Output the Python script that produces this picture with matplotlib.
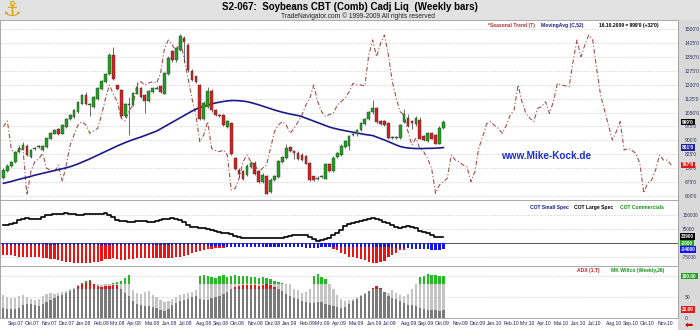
import numpy as np
import pandas as pd
import matplotlib
matplotlib.use("Agg")
import matplotlib.pyplot as plt
import matplotlib.dates as mdates
from matplotlib.patches import Rectangle

plt.rcParams['font.family'] = ['Liberation Sans', 'DejaVu Sans']

# ---- data (weekly bars, first bar 24.08.2007, last 16.10.2009) ----
bar_start = '2007-08-24'
opens = [697, 735, 762, 783, 837, 857, 870, 812, 857, 866, 848, 866, 911, 938, 960, 938,
         974, 1016, 1028, 1055, 1100, 1145, 1091, 1082, 1127, 1178, 1217, 1262, 1358, 1196,
         1172, 1034, 1091, 1091, 1154, 1181, 1145, 1113, 1160, 1181, 1190, 1154, 1262, 1379,
         1334, 1388, 1451, 1415, 1275, 1244, 1196, 1019, 1082, 1163, 1064, 1037, 1037, 974,
         992, 803, 740, 731, 713, 758, 776, 731, 677, 704, 623, 686, 704, 785, 807, 861,
         843, 830, 821, 812, 776, 704, 695, 704, 695, 771, 735, 812, 821, 866, 870, 929,
         933, 956, 992, 1016, 1052, 1073, 1005, 1001, 992, 915, 915, 915, 1001, 1019, 1001,
         992, 1010, 920, 896, 938, 929, 884, 967]
closes = [740, 762, 783, 837, 859, 875, 821, 848, 860, 864, 866, 911, 938, 956, 938, 983,
          1016, 1037, 1064, 1106, 1145, 1095, 1093, 1131, 1181, 1217, 1257, 1361, 1232, 1178,
          1034, 1095, 1093, 1154, 1181, 1136, 1113, 1163, 1181, 1183, 1163, 1262, 1343, 1334,
          1397, 1460, 1433, 1280, 1226, 1217, 1019, 1100, 1163, 1064, 1037, 1035, 983, 1001,
          830, 749, 722, 695, 758, 776, 722, 677, 713, 614, 686, 704, 785, 807, 857, 843,
          834, 803, 794, 776, 686, 686, 697, 706, 771, 735, 806, 830, 870, 893, 920, 931,
          956, 992, 1016, 1052, 1073, 1001, 992, 983, 915, 917, 917, 983, 1041, 978, 994,
          1019, 911, 902, 938, 911, 884, 967, 999]
highs = [750, 770, 790, 845, 875, 893, 880, 855, 866, 875, 875, 915, 945, 962, 968, 990,
         1022, 1045, 1070, 1112, 1152, 1160, 1100, 1138, 1188, 1225, 1265, 1370, 1406, 1200,
         1180, 1100, 1136, 1160, 1217, 1190, 1150, 1170, 1188, 1195, 1200, 1270, 1355, 1390,
         1405, 1475, 1465, 1425, 1285, 1250, 1205, 1110, 1190, 1180, 1070, 1045, 1045, 1010,
         1000, 810, 750, 740, 770, 790, 790, 740, 725, 715, 695, 715, 792, 815, 880, 870,
         850, 840, 830, 820, 785, 710, 705, 715, 778, 780, 815, 838, 878, 900, 928, 940,
         962, 1000, 1022, 1060, 1118, 1080, 1012, 1008, 1000, 925, 925, 990, 1070, 1045,
         1010, 1030, 1025, 928, 945, 945, 935, 975, 1008]
lows = [690, 730, 755, 778, 830, 850, 815, 805, 850, 858, 840, 860, 905, 932, 930, 932,
        968, 1010, 1020, 1050, 1095, 1090, 1030, 1075, 1120, 1170, 1210, 1255, 1225, 1172,
        1028, 1028, 929, 1085, 1148, 1130, 1046, 1108, 1155, 1175, 1158, 1150, 1255, 1325,
        1325, 1380, 1325, 1270, 1220, 1210, 1010, 1010, 1075, 1055, 1030, 1025, 975, 965,
        822, 740, 700, 685, 705, 750, 715, 670, 670, 608, 615, 680, 698, 778, 800, 835,
        800, 795, 788, 770, 680, 680, 688, 695, 690, 728, 730, 805, 815, 860, 850, 922,
        925, 950, 985, 1010, 1045, 995, 985, 975, 908, 905, 908, 908, 995, 970, 960, 975,
        905, 895, 890, 905, 878, 878, 960]
moving_avg = [668, 673, 678, 684, 690, 695, 700, 706, 712, 717, 722, 727, 732, 737, 742, 747,
              752, 758, 765, 773, 782, 791, 800, 810, 820, 830, 840, 850, 860, 870, 879, 888,
              896, 904, 911, 918, 926, 934, 942, 950, 962, 974, 986, 998, 1010, 1022, 1034,
              1046, 1058, 1068, 1077, 1084, 1091, 1097, 1102, 1106, 1110, 1113, 1115, 1115,
              1114, 1112, 1109, 1104, 1098, 1092, 1085, 1078, 1071, 1064, 1058, 1052, 1047,
              1042, 1038, 1034, 1028, 1020, 1012, 1004, 996, 988, 980, 972, 966, 961, 956, 952,
              948, 944, 940, 936, 932, 929, 926, 918, 910, 902, 893, 884, 875, 867, 862, 859,
              857, 856, 856, 856, 857, 857, 858, 859, 861]
seasonal = [974, 1005, 857, 821, 857, 848, 605, 731, 785, 800, 830, 749, 740, 731, 767, 677,
            767, 875, 930, 983, 1001, 983, 938, 950, 965, 1037, 1127, 1199, 1150, 1109, 1019,
            1005, 1060, 1091, 1199, 1217, 1199, 1210, 1217, 1208, 1262, 1397, 1442, 1415, 1379,
            1442, 1343, 1235, 1127, 1037, 893, 929, 1001, 857, 845, 839, 848, 821, 632, 641,
            695, 785, 821, 785, 767, 731, 750, 767, 857, 947, 983, 1001, 983, 938, 965, 1000,
            1037, 1091, 1127, 1199, 1109, 1055, 1028, 1040, 1046, 1091, 1110, 1127, 1163, 1208,
            1200, 1199, 1194, 1361, 1442, 1352, 1424, 1469, 1361, 1217, 1127, 1055, 1037, 947,
            875, 911, 857, 839, 800, 749, 614, 659, 677, 695, 821, 794, 785, 767, 758, 677, 731,
            857, 920, 990, 1001, 980, 965, 938, 980, 1037, 1064, 1199, 1109, 1046, 1020, 1001,
            1073, 1082, 1109, 1046, 1109, 1208, 1199, 1195, 1190, 1325, 1442, 1352, 1415, 1469,
            1442, 1289, 1145, 1064, 983, 902, 947, 1001, 848, 857, 845, 830, 776, 616, 670, 686,
            740, 821, 794, 794, 767]

# COT (net positions)
cot_large = [96400, 98000, 100000, 109000, 123000, 128000, 132000, 131000, 130000, 128500,
             140000, 150000, 152000, 153500, 155000, 157000, 159000, 156000, 153000, 150000,
             151000, 153000, 154000, 155000, 156000, 157000, 159000, 152000, 141000, 125000,
             118000, 116000, 115000, 114000, 116000, 118000, 117000, 115000, 114000, 118000,
             123000, 127000, 130000, 132000, 129000, 123000, 112000, 98000, 87500, 84000,
             81000, 78500, 74000, 68000, 63000, 60700, 56000, 51000, 46400, 40000, 33000,
             28600, 27000, 26000, 25000, 25000, 25000, 25000, 25000, 25000, 25000, 28000,
             33000, 39300, 41000, 42000, 42900, 42900, 32000, 21400, 10700, 15000, 22000,
             28600, 42000, 51800, 70000, 92800, 100000, 106000, 112000, 118000, 124000, 128000,
             132000, 128000, 123000, 114000, 105000, 95000, 85000, 78500, 87500, 92800, 85000,
             78500, 66000, 60700, 52000, 42900, 34000, 33900, 33900]
cot_comm = [-64000, -64000, -66000, -70000, -73000, -73000, -73000, -73000, -75000, -77000,
            -80000, -82000, -85000, -88000, -91000, -95000, -100000, -104000, -109000, -109000,
            -109000, -109000, -106000, -103000, -100000, -95000, -88000, -84000, -82000, -86000,
            -90000, -91000, -88000, -85000, -82000, -82000, -82000, -82000, -82000, -82000,
            -82000, -82000, -80000, -78000, -75000, -73000, -68000, -62000, -55000, -48000,
            -42000, -37000, -34000, -31000, -29000, -28000, -25000, -22000, -20000, -18000,
            -16000, -15000, -14000, -13000, -12000, -12000, -13000, -14000, -15000, -14000,
            -13000, -12000, -12000, -13000, -14000, -15000, -16000, -17000, -18000, -16000,
            -15000, -14000, -16000, -20000, -30000, -37000, -55000, -60000, -73000, -76000,
            -80000, -85000, -92000, -100000, -105000, -109000, -104000, -95000, -73000, -62000,
            -55000, -40000, -36000, -28000, -22000, -18000, -18000, -18000, -18000, -18000,
            -18000, -18000, -18000]
cot_small = [-9000, -9000, -9500, -9500, -10000, -10000, -9500, -9000, -9000, -9500, -10000,
             -10000, -10500, -10500, -11000, -11000, -11000, -10500, -10000, -10000, -10000,
             -10500, -10500, -11000, -11000, -10500, -10000, -10000, -9500, -9500, -10000,
             -10000, -10500, -10500, -10000, -10000, -10000, -10500, -10500, -11000, -11000,
             -11000, -10500, -10500, -10000, -10000, -10500, -11000, -11500, -12000, -12500,
             -13000, -14000, -15000, -16000, -17000, -18000, -19000, -20000, -21000, -21000,
             -22000, -22000, -21000, -20000, -20000, -21000, -22000, -23000, -22000, -21000,
             -20000, -20000, -21000, -22000, -23000, -24000, -25000, -26000, -26000, -25000,
             -24000, -24000, -23000, -22000, -21000, -20000, -20000, -20000, -20000, -20000,
             -20000, -20000, -20000, -20000, -20000, -20000, -21000, -22000, -23000, -25000,
             -27000, -28000, -29000, -30000, -31000, -32000, -33000, -34000, -35000, -35000,
             -35000, -34000]

# ADX / MK Willco
adx = [23, 21, 21, 22, 25, 30, 33, 33, 31, 28, 33, 38, 43, 47, 52, 56, 60, 64, 70, 76, 80, 84,
       88, 80, 76, 75, 76, 77, 79, 78, 70, 60, 52, 40, 33, 30, 29, 28, 27, 25, 20, 16, 22, 30,
       36, 40, 43, 46, 50, 52, 45, 43, 44, 47, 50, 53, 58, 63, 68, 73, 76, 78, 79, 79, 78, 77,
       79, 80, 78, 74, 70, 64, 58, 52, 48, 45, 40, 38, 36, 35, 37, 38, 33, 30, 28, 27, 25, 27,
       33, 40, 46, 52, 58, 65, 72, 76, 72, 62, 52, 48, 45, 40, 36, 32, 30, 28, 25, 22, 20, 19,
       18, 17, 20]
willco = [55, 50, 47, 48, 52, 55, 50, 45, 43, 45, 52, 58, 60, 58, 60, 62, 65, 68, 72, 78, 84,
          88, 90, 82, 80, 78, 80, 82, 84, 85, 88, 96, 102, 66, 60, 58, 62, 64, 55, 50, 42, 38,
          40, 45, 50, 55, 58, 60, 62, 66, 100, 102, 100, 98, 96, 100, 102, 98, 100, 102, 100,
          101, 100, 98, 97, 96, 98, 95, 92, 88, 86, 84, 82, 80, 70, 66, 60, 62, 70, 100, 104,
          98, 94, 80, 70, 55, 45, 40, 42, 45, 50, 55, 60, 62, 65, 68, 64, 62, 60, 66, 60, 55,
          52, 58, 70, 80, 98, 100, 104, 103, 102, 101, 100]

month_names = ['Jan', 'Feb', 'Mrz', 'Apr', 'Mai', 'Jun', 'Jul', 'Aug', 'Sep', 'Okt', 'Nov', 'Dez']
price_ticks = [600, 675, 750, 825, 900, 975, 1050, 1125, 1200, 1275, 1350, 1425, 1500]
cot_ticks = [-75000, 75000, 150000]
adx_ticks = [0, 50]

dates = pd.date_range(bar_start, periods=len(closes), freq='7D')
sdates = pd.date_range(bar_start, periods=len(seasonal), freq='7D')
month_ticks = pd.date_range('2007-09-01', '2010-11-01', freq='MS')
o = np.array(opens); c = np.array(closes); h = np.array(highs); l = np.array(lows)

GREEN = '#1fa01f'
RED = '#d81e1e'
GRID = '#c8c8c8'
STRIP = '#d9d9d9'
xmin, xmax = pd.Timestamp('2007-08-18'), pd.Timestamp('2010-12-08')

fig = plt.figure(figsize=(7, 3.3), dpi=100)
fig.patch.set_facecolor('white')
# header band and right strip (behind the axes)
fig.patches.append(Rectangle((0, 1 - 20 / 330), 1, 20 / 330, transform=fig.transFigure,
                             facecolor='#e2e2e2', edgecolor='none', zorder=-5))
fig.patches.append(Rectangle((678 / 700, 0), 22 / 700, 1 - 20 / 330, transform=fig.transFigure,
                             facecolor=STRIP, edgecolor='none', zorder=-5))
fig.text(0.5, 1 - 7 / 330, 'S2-067:  Soybeans CBT (Comb) Cadj Liq  (Weekly bars)',
         ha='center', va='center', fontsize=7, fontweight='bold')
fig.text(435 / 700, 1 - 16 / 330, 'TradeNavigator.com \u00a9 1999-2009 All rights reserved',
         ha='right', va='center', fontsize=4.8, color='#222222')
fig.text(12 / 700, 1 - 10 / 330, '\u2693', fontsize=15, color='#d9a514', ha='center',
         va='center', family='DejaVu Sans')

W = 678 / 700
ax = fig.add_axes([0, 1 - 200 / 330, W, 180 / 330])
ax2 = fig.add_axes([0, 1 - 266 / 330, W, 66 / 330], sharex=ax)
ax3 = fig.add_axes([0, 1 - 318 / 330, W, 52 / 330], sharex=ax)

for a in (ax, ax2, ax3):
    a.set_facecolor('white')
    a.xaxis.set_major_locator(mdates.MonthLocator())
    a.xaxis.set_minor_locator(mdates.MonthLocator(bymonth=[1, 3, 5, 7, 9, 11]))
    a.grid(True, axis='x', which='minor', color=GRID, linestyle=(0, (2, 2)), linewidth=0.5)
    a.grid(True, axis='y', which='major', color=GRID, linestyle=(0, (2, 2)), linewidth=0.5)
    a.set_axisbelow(True)
    for s in a.spines.values():
        s.set_color('#9a9a9a')
        s.set_linewidth(0.6)
    a.yaxis.tick_right()
    a.tick_params(axis='y', length=0, pad=5, labelsize=3.6, labelcolor='#333366')
    a.tick_params(axis='x', which='both', length=0)
ax2.tick_params(axis='y', pad=3, labelsize=3.4)
ax.set_xlim(xmin, xmax)
ax3.set_xticks(month_ticks)

# ---- main panel ----
ax.set_ylim(578, 1550)
ax.set_yticks(price_ticks)
ax.set_yticklabels([f"{v}'0" for v in price_ticks])
ax.plot(sdates, seasonal, color='#a0504c', lw=0.8, dashes=(4, 2, 1, 2), zorder=2)
ax.plot(dates, moving_avg, color='#1a1a8c', lw=1.2, zorder=3)
ax.vlines(dates, l, h, color='#333333', lw=0.5, zorder=4)
up = c >= o
colors = np.where(up, GREEN, RED)
ax.bar(dates, np.abs(c - o) + 2, bottom=np.minimum(o, c) - 1, width=4.8, color=colors,
       edgecolor='#333333', linewidth=0.3, zorder=5)
ax.text(0.755, 0.985, '*Seasonal Trend (T)', transform=ax.transAxes, fontsize=3.6,
        color='#b03030', fontweight='bold', va='top', ha='center')
ax.text(0.83, 0.985, 'MovingAvg (C,52)', transform=ax.transAxes, fontsize=3.6,
        color='#1a1a8c', fontweight='bold', va='top', ha='center')
ax.text(0.927, 0.985, "16.10.2009 = 999'0 (+32'0)", transform=ax.transAxes, fontsize=3.6,
        color='black', fontweight='bold', va='top', ha='center')
ax.text(0.805, 0.245, 'www.Mike-Kock.de', transform=ax.transAxes, fontsize=7.2,
        color='#1f2fd0', fontweight='bold', ha='center', va='center')
ax.text(0.004, -0.005, 'TradeNavigator.com', transform=ax.transAxes, fontsize=4.6,
        color='#333333', ha='left', va='top')
for val, fc in [(closes[-1], 'black'), (moving_avg[-1], '#2020a0'), (seasonal[-1], '#e01818')]:
    ax.annotate(f"{val}'0", xy=(1.0, val), xycoords=('axes fraction', 'data'),
                xytext=(3, 0), textcoords='offset points', fontsize=3.6, color='white',
                va='center', ha='left', fontweight='bold',
                bbox=dict(boxstyle='square,pad=0.15', fc=fc, ec='none'))

# ---- COT panel ----
ax2.set_ylim(-123000, 230000)
ax2.set_yticks(cot_ticks)
ax2.set_yticklabels([str(v) for v in cot_ticks])
ax2.axhline(0, color='#555555', lw=0.7, zorder=2)
ax2.bar(dates, cot_comm, width=4.0, color='#ee1111', zorder=3)
ax2.bar(dates, cot_small, width=4.0, color='#1515ee', zorder=4)
ax2.step(dates, cot_large, where='mid', color='black', lw=1.2, zorder=5)
ax2.text(0.81, 0.89, 'COT Small Spec', transform=ax2.transAxes, fontsize=3.6,
         color='#1a1a8c', fontweight='bold', ha='center', va='center')
ax2.text(0.875, 0.89, 'COT Large Spec', transform=ax2.transAxes, fontsize=3.6,
         color='black', fontweight='bold', ha='center', va='center')
ax2.text(0.947, 0.89, 'COT Commercials', transform=ax2.transAxes, fontsize=3.6,
         color='#109010', fontweight='bold', ha='center', va='center')
for val, fc in [(cot_large[-1], 'black'), (-2000, '#20a020'), (cot_small[-1], '#1515ee')]:
    ax2.annotate(f"{val}", xy=(1.0, val), xycoords=('axes fraction', 'data'),
                 xytext=(2, 0), textcoords='offset points', fontsize=3.4, color='white',
                 va='center', ha='left', fontweight='bold',
                 bbox=dict(boxstyle='square,pad=0.15', fc=fc, ec='none'))

# ---- ADX / Willco panel ----
ax3.set_ylim(0, 124)
ax3.set_yticks(adx_ticks)
ax3.set_yticklabels(['0', '50'])
ax3.axhline(100, color=GRID, linestyle=(0, (2, 2)), linewidth=0.5, zorder=0)
wl = np.array(willco, dtype=float)
ad = np.array(adx, dtype=float)
ax3.bar(dates, np.minimum(wl, 82), width=4.0, color='#c4c4c4', zorder=2)
ax3.bar(dates, np.clip(wl - 82, 0, None), bottom=82, width=4.0, color='#22bb22', zorder=2)
ax3.bar(dates, np.minimum(ad, 68), width=4.0, color='#7a7a7a', zorder=3)
ax3.bar(dates, np.clip(ad - 68, 0, None), bottom=68, width=4.0, color='#e01818', zorder=3)
ax3.text(0.868, 0.92, 'ADX (1,T)', transform=ax3.transAxes, fontsize=3.6,
         color='#d01818', fontweight='bold', ha='center', va='center')
ax3.text(0.94, 0.92, 'MK Willco (Weekly,26)', transform=ax3.transAxes, fontsize=3.6,
         color='#109010', fontweight='bold', ha='center', va='center')
for val, fc in [(willco[-1], '#20a020'), (adx[-1], '#e01818')]:
    ax3.annotate(f"{val:.2f}", xy=(1.0, val), xycoords=('axes fraction', 'data'),
                 xytext=(3, 0), textcoords='offset points', fontsize=3.4, color='white',
                 va='center', ha='left', fontweight='bold',
                 bbox=dict(boxstyle='square,pad=0.15', fc=fc, ec='none'))

plt.setp(ax.get_xticklabels(), visible=False)
plt.setp(ax2.get_xticklabels(), visible=False)
ax3.xaxis.set_major_formatter(plt.FuncFormatter(
    lambda v, p: f"{month_names[mdates.num2date(v).month - 1]}.{mdates.num2date(v).year % 100:02d}"))
ax3.tick_params(axis='x', labelsize=3.6, labelcolor='#202060', pad=2)
for t in ax3.get_xticklabels():
    t.set_horizontalalignment('left')

fig.text(689 / 700, 5 / 330, '\u2b05', fontsize=7, color='#cc0000', ha='center', va='center',
         family='DejaVu Sans')

fig.savefig('out.png', dpi=100)
